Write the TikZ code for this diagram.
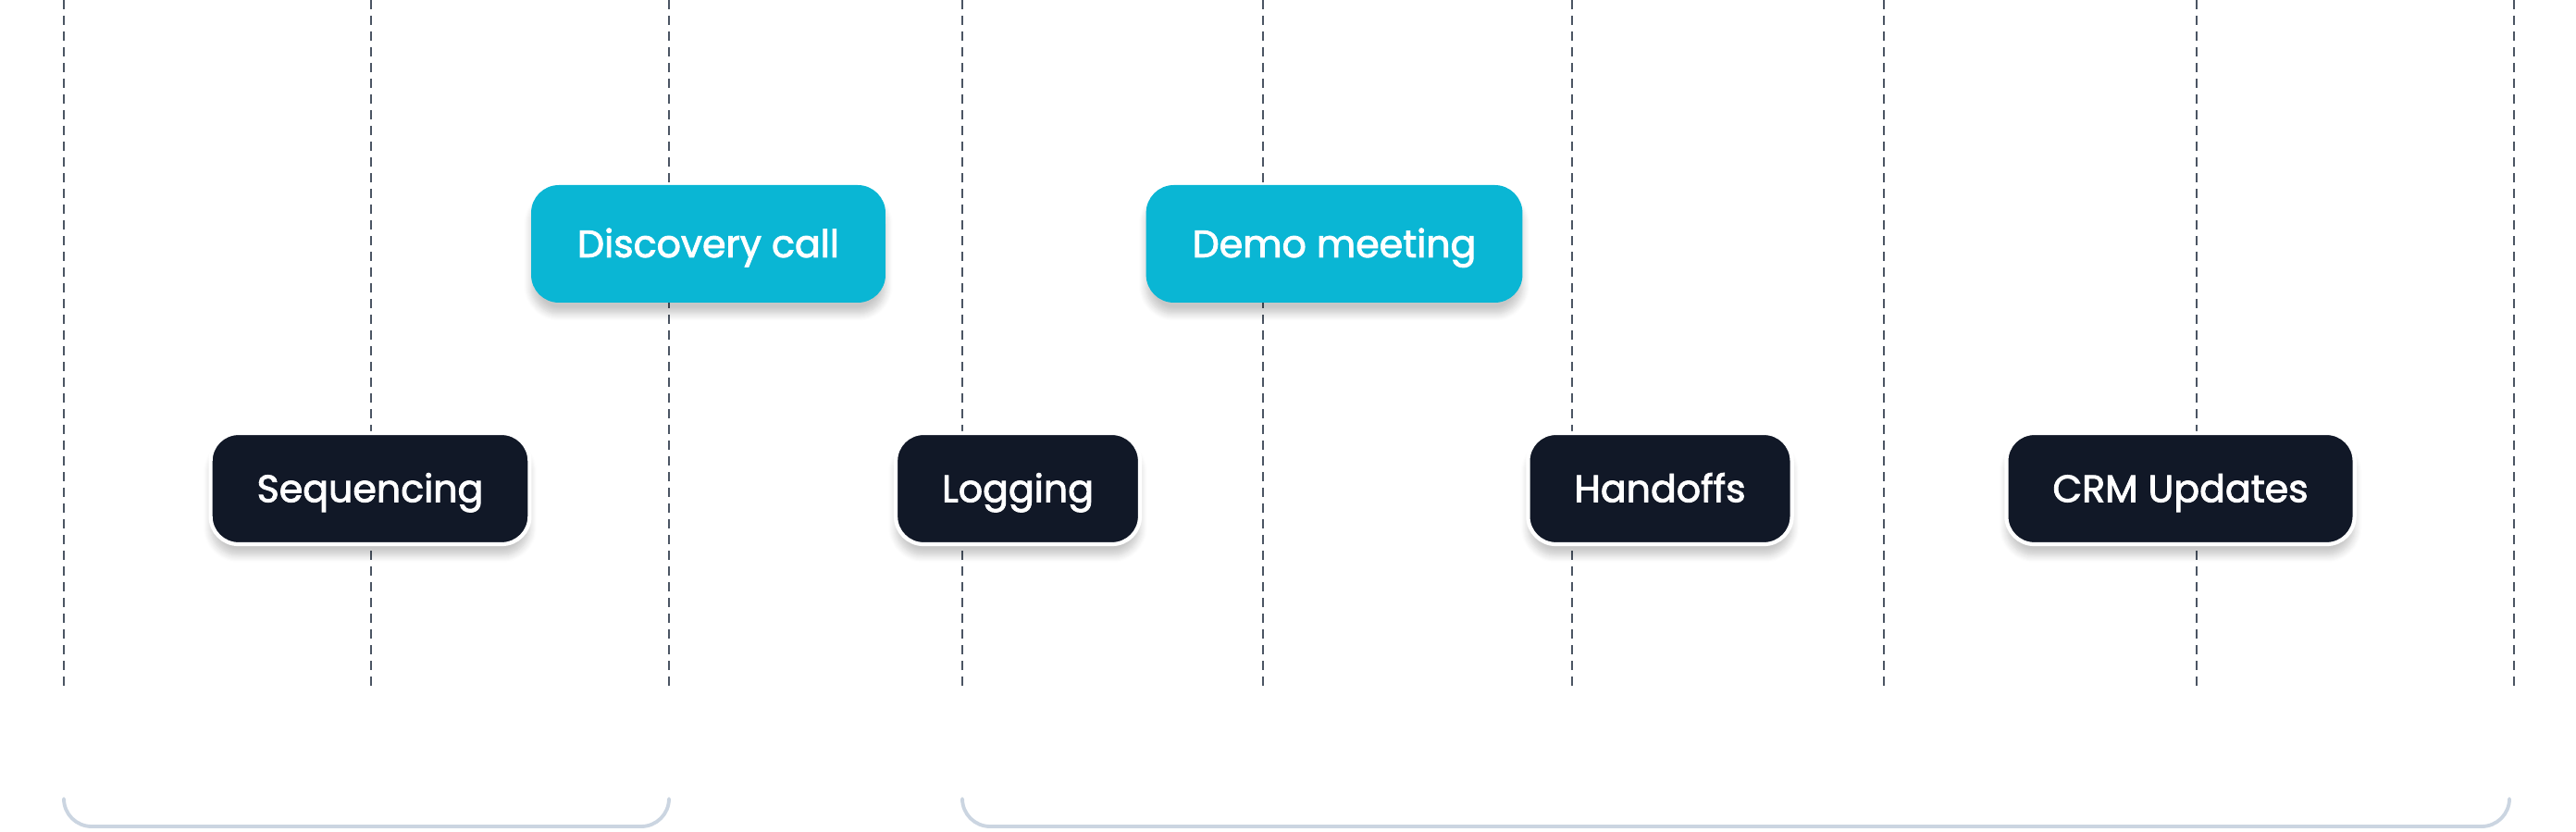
\documentclass[tikz,border=0pt]{standalone}
\usepackage{fontspec}
\setmainfont{Poppins}
\newfontfamily\stagefont{Poppins}[FakeBold=2.2]
\usepackage{tikz}
\usetikzlibrary{positioning,shadows.blur}
\definecolor{tlteal}{HTML}{0AB6D4}
\definecolor{tlnavy}{HTML}{111827}
\definecolor{tlgrid}{HTML}{4B5563}
\definecolor{tlbrace}{HTML}{CBD5E1}

\tikzset{
  stage/.style={rounded corners=0.3cm, minimum height=1.27cm, inner xsep=0.5cm,
    text=white, font=\stagefont\fontsize{11.7}{14}\selectfont,
    text height=8.2pt, text depth=0pt,
    blur shadow={shadow xshift=0pt, shadow yshift=-0.12cm, shadow blur steps=8, shadow opacity=22}},
  callbox/.style={stage, fill=tlteal},
  taskbox/.style={stage, fill=tlnavy, draw=white, line width=1.2pt, minimum height=1.2cm},
  gridline/.style={tlgrid, line width=0.8pt, dash pattern=on 0.1cm off 0.07cm},
  phase/.style={tlbrace, line width=1.1pt, rounded corners=0.3cm, line cap=round}
}

\begin{document}
\begin{tikzpicture}
  \useasboundingbox (0,0) rectangle (27.84,8.98);
  % time grid
  \foreach \x in {0.69,4.01,7.23,10.40,13.65,16.99,20.36,23.74,27.17}{
     \draw[gridline] (\x,8.98) -- (\x,1.56);
  }
  % meetings (top row)
  \node[callbox] (discovery) at (7.655,6.345) {Discovery call};
  \node[callbox] (demo) at (14.42,6.345) {Demo meeting};
  % automated tasks (bottom row)
  \node[taskbox] (sequencing) at (4.00,3.70) {Sequencing};
  \node[taskbox] (logging) at (11.00,3.70) {Logging};
  \node[taskbox] (handoffs) at (17.94,3.70) {Handoffs};
  \node[taskbox] (crm) at (23.565,3.70) {CRM Updates};
  % phase brackets
  \draw[phase] (0.69,0.35) |- (7.23,0.05) -- (7.23,0.35);
  \draw[phase] (10.40,0.35) |- (27.12,0.05) -- (27.12,0.35);
\end{tikzpicture}
\end{document}
